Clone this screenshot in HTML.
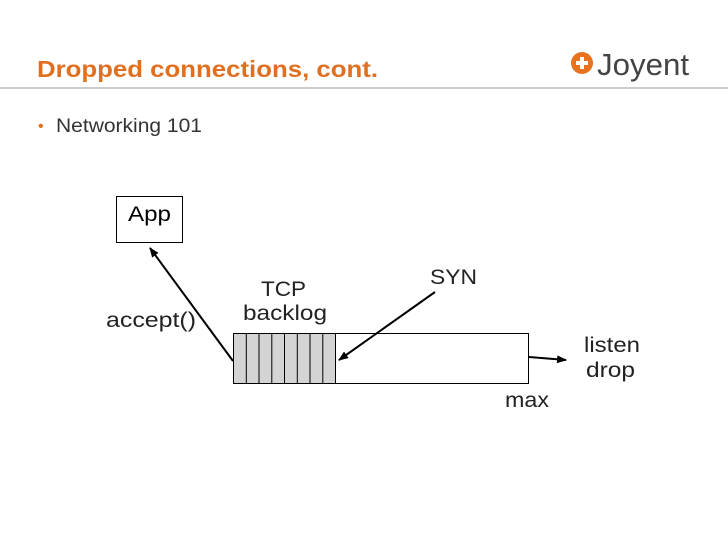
<html><body style="margin:0;width:728px;height:546px;background:#fff;overflow:hidden;font-family:'Liberation Sans',sans-serif">
<svg width="728" height="546" xmlns="http://www.w3.org/2000/svg" style="position:absolute;left:0;top:0">
<defs><marker id="a" markerWidth="10" markerHeight="8" refX="9" refY="4" orient="auto" markerUnits="userSpaceOnUse"><path d="M0,0 L10,4 L0,8 z" fill="#000"/></marker></defs>
<text x="37" y="77" font-size="23" font-weight="bold" fill="#e07020" font-family="Liberation Sans" textLength="341" lengthAdjust="spacingAndGlyphs">Dropped connections, cont.</text>
<circle cx="582" cy="63" r="11" fill="#e8731f"/>
<path d="M582,57 v12 M576,63 h12" stroke="#fff" stroke-width="4"/>
<text x="597" y="75" font-size="31" fill="#444" font-family="Liberation Sans" textLength="92" lengthAdjust="spacingAndGlyphs">Joyent</text>
<line x1="0" y1="88" x2="728" y2="88" stroke="#ccc" stroke-width="2"/>
<text x="38" y="131" font-size="16" fill="#e07020">•</text>
<text x="56" y="132" font-size="19" fill="#333" textLength="146" lengthAdjust="spacingAndGlyphs">Networking 101</text>
<rect x="116.5" y="196.5" width="66" height="46" fill="#fff" stroke="#000"/>
<text x="128" y="221" font-size="21" fill="#000" textLength="43" lengthAdjust="spacingAndGlyphs">App</text>
<rect x="233.5" y="333.5" width="295" height="50" fill="#fff" stroke="#000"/>
<rect x="233.5" y="333.5" width="102" height="50" fill="#d4d4d4" stroke="#000"/>
<g stroke="#000"><line x1="246.3" y1="334" x2="246.3" y2="384"/><line x1="259" y1="334" x2="259" y2="384"/><line x1="271.8" y1="334" x2="271.8" y2="384"/><line x1="284.5" y1="334" x2="284.5" y2="384"/><line x1="297.3" y1="334" x2="297.3" y2="384"/><line x1="310" y1="334" x2="310" y2="384"/><line x1="322.8" y1="334" x2="322.8" y2="384"/></g>
<line x1="233" y1="361" x2="150" y2="248" stroke="#000" stroke-width="2" marker-end="url(#a)"/>
<line x1="435" y1="292" x2="339" y2="360" stroke="#000" stroke-width="2" marker-end="url(#a)"/>
<line x1="529" y1="357" x2="566" y2="360" stroke="#000" stroke-width="2" marker-end="url(#a)"/>
<g font-size="21" fill="#222" lengthAdjust="spacingAndGlyphs">
<text x="261" y="296" textLength="45" lengthAdjust="spacingAndGlyphs">TCP</text>
<text x="243" y="320" textLength="84" lengthAdjust="spacingAndGlyphs">backlog</text>
<text x="430" y="284" textLength="47" lengthAdjust="spacingAndGlyphs">SYN</text>
<text x="106" y="327" textLength="90" lengthAdjust="spacingAndGlyphs">accept()</text>
<text x="584" y="352" textLength="56" lengthAdjust="spacingAndGlyphs">listen</text>
<text x="586" y="377" textLength="49" lengthAdjust="spacingAndGlyphs">drop</text>
<text x="505" y="407" textLength="44" lengthAdjust="spacingAndGlyphs">max</text>
</g>
</svg>
</body></html>
